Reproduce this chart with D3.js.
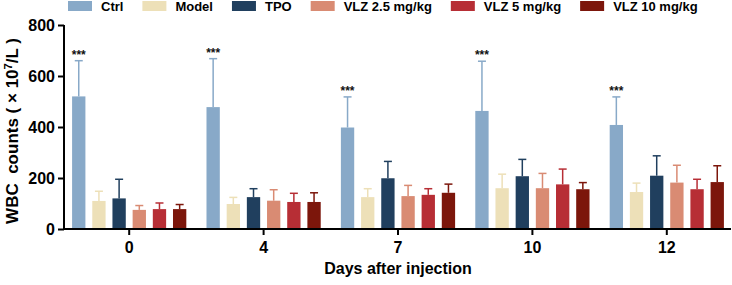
<!DOCTYPE html>
<html>
<head>
<meta charset="utf-8">
<script src="https://cdn.jsdelivr.net/npm/d3@7"></script>
<style>
  body { margin: 0; background: #fff; }
  svg { display: block; font-family: "Liberation Sans", Arial, sans-serif; font-weight: bold; }
</style>
</head>
<body>
<svg id="chart"></svg>
<script>
const width = 732;
const height = 285;

// data
const days = ["0", "4", "7", "10", "12"];
const groups = ["Ctrl", "Model", "TPO", "VLZ 2.5 mg/kg", "VLZ 5 mg/kg", "VLZ 10 mg/kg"];
const colors = ["#88a9c8", "#ede0b8", "#203f5e", "#d98b73", "#b72e35", "#7c160b"];

// mean per group, one row per day
const means = [
  [520, 110, 120, 75, 78, 78],
  [478, 98, 125, 111, 106, 106],
  [398, 125, 199, 129, 134, 142],
  [463, 160, 207, 160, 175, 156],
  [408, 145, 209, 182, 156, 184]
];
// SD (upper error bar only)
const sds = [
  [140, 38, 75, 17, 24, 18],
  [190, 26, 33, 43, 34, 36],
  [120, 33, 66, 42, 24, 34],
  [195, 55, 66, 58, 60, 26],
  [110, 35, 78, 68, 39, 64]
];
const yTicks = [0, 200, 400, 600, 800];

const svg = d3.select("#chart")
  .attr("width", width)
  .attr("height", height);

const x0 = d3.scaleBand()
  .domain(days)
  .range([62, 734])
  .paddingInner(0);

const x1 = d3.scaleBand()
  .domain(groups)
  .range([0, x0.bandwidth()])
  .paddingInner(0.34)
  .paddingOuter(0.5);

const y = d3.scaleLinear()
  .domain([0, 800])
  .range([229, 25]);

const color = d3.scaleOrdinal().domain(groups).range(colors);

// bars
const rows = days.map((d, i) => ({
  day: d,
  vals: groups.map((g, j) => ({ day: d, group: g, mean: means[i][j], sd: sds[i][j] }))
}));

const dayG = svg.selectAll("g.day")
  .data(rows)
  .enter()
  .append("g")
  .attr("class", "day")
  .attr("transform", d => `translate(${x0(d.day)},0)`);

const barG = dayG.selectAll("g.bar")
  .data(d => d.vals)
  .enter()
  .append("g")
  .attr("class", "bar");

// error bars (upper only)
barG.append("line")
  .attr("x1", d => x1(d.group) + x1.bandwidth() / 2)
  .attr("x2", d => x1(d.group) + x1.bandwidth() / 2)
  .attr("y1", d => y(d.mean))
  .attr("y2", d => y(d.mean + d.sd))
  .attr("stroke", d => color(d.group))
  .attr("stroke-width", 1.5);

barG.append("line")
  .attr("x1", d => x1(d.group) + x1.bandwidth() / 2 - 4)
  .attr("x2", d => x1(d.group) + x1.bandwidth() / 2 + 4)
  .attr("y1", d => y(d.mean + d.sd))
  .attr("y2", d => y(d.mean + d.sd))
  .attr("stroke", d => color(d.group))
  .attr("stroke-width", 1.5);

barG.append("rect")
  .attr("x", d => x1(d.group))
  .attr("y", d => y(d.mean))
  .attr("width", x1.bandwidth())
  .attr("height", d => y(0) - y(d.mean))
  .attr("fill", d => color(d.group));

// significance stars over Ctrl
barG.filter(d => d.group === "Ctrl")
  .append("text")
  .attr("x", d => x1(d.group) + x1.bandwidth() / 2)
  .attr("y", d => y(d.mean + d.sd) - 2)
  .attr("text-anchor", "middle")
  .style("font-size", "12px")
  .attr("fill", "#111")
  .text("***");

// y axis
const yAxis = svg.append("g")
  .attr("transform", "translate(64,0)")
  .call(d3.axisLeft(y).tickValues(yTicks).tickSize(6).tickPadding(3));
yAxis.select(".domain").attr("d", `M0,${y(800)}V${y(0)}`);

// x axis
const xAxis = svg.append("g")
  .attr("transform", `translate(0,${y(0)})`)
  .call(d3.axisBottom(x0).tickSize(6).tickPadding(7));
xAxis.select(".domain").attr("d", "M64,0H731");

svg.selectAll(".tick line").attr("stroke", "#000").attr("stroke-width", 2);
svg.selectAll(".domain").attr("stroke", "#000").attr("stroke-width", 2);
svg.selectAll(".tick text")
  .attr("fill", "#000")
  .style("font-family", "'Liberation Sans', Arial, sans-serif")
  .style("font-weight", "bold")
  .style("font-size", "16px");

// axis titles
svg.append("text")
  .attr("x", 398)
  .attr("y", 274)
  .attr("text-anchor", "middle")
  .style("font-size", "16px")
  .text("Days after injection");

const yTitle = svg.append("text")
  .attr("transform", "translate(18,131) rotate(-90)")
  .attr("text-anchor", "middle")
  .style("font-size", "17px")
  .style("white-space", "pre")
  .attr("xml:space", "preserve");
yTitle.append("tspan").text("WBC  counts ( × 10");
yTitle.append("tspan").attr("dy", -6).style("font-size", "11px").text("7");
yTitle.append("tspan").attr("dy", 6).text("/L )");

// legend
const legend = svg.append("g").attr("class", "legend");
let lx = 68;
groups.forEach(g => {
  const item = legend.append("g").attr("transform", `translate(${lx},0)`);
  item.append("rect")
    .attr("x", 0)
    .attr("y", 1)
    .attr("width", 24)
    .attr("height", 10)
    .attr("fill", color(g));
  const t = item.append("text")
    .attr("x", 33)
    .attr("y", 11)
    .style("font-size", "13px")
    .text(g);
  lx += 33 + t.node().getComputedTextLength() + 19;
});
</script>
</body>
</html>
